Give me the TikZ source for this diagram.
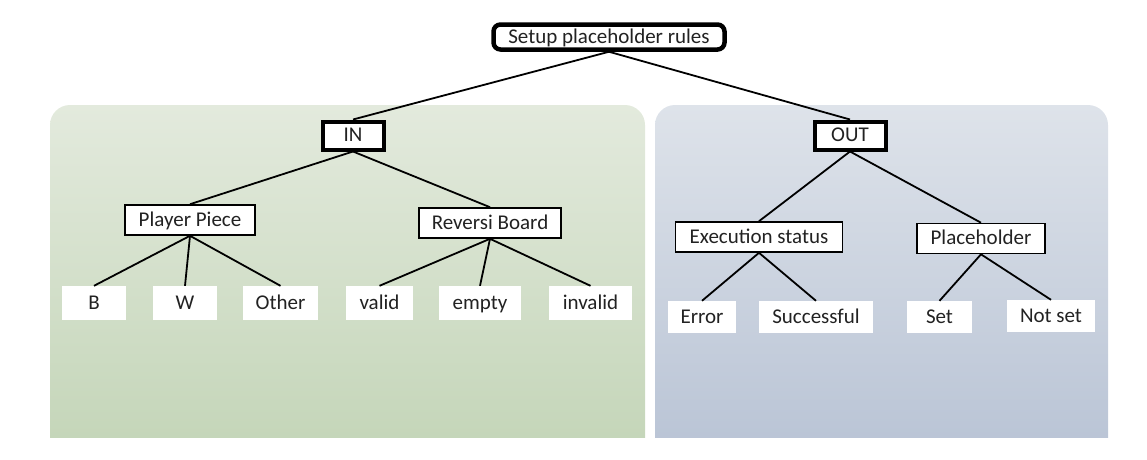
\documentclass[tikz,border=0pt]{standalone}
\usepackage{fontspec}
\setmainfont{Carlito}
\definecolor{gtop}{HTML}{E3EADD}
\definecolor{gbot}{HTML}{C2D4B6}
\definecolor{btop}{HTML}{DEE3EA}
\definecolor{bbot}{HTML}{B7C2D4}
\definecolor{txt}{HTML}{222222}
\begin{document}
\begin{tikzpicture}[x=1pt,y=-1pt,
  every node/.style={font=\fontsize{21}{24}\selectfont, text=txt, inner sep=0pt, anchor=center, text height=15pt, text depth=3pt},
  rootbox/.style={draw=black, line width=4.5pt, rounded corners=7pt, fill=white, minimum width=231pt, minimum height=25pt},
  hubbox/.style={draw=black, line width=4pt, fill=white, minimum height=28pt},
  midbox/.style={draw=black, line width=1.6pt, fill=white, minimum height=30pt},
  leafbox/.style={fill=white, minimum height=34pt},
  link/.style={draw=black, line width=1.8pt}]
\useasboundingbox (0,0) rectangle (1147,459);
\begin{scope}
\clip (0,0) rectangle (1147,437);
\shade[top color=gtop, bottom color=gbot, rounded corners=20pt] (50,105) rectangle (645,470);
\shade[top color=btop, bottom color=bbot, rounded corners=20pt] (655,105) rectangle (1108,470);
\end{scope}
% nodes
\node[rootbox] (root) at (609,37) {Setup placeholder rules};
\node[hubbox, minimum width=61pt] (in) at (353,135.5) {IN};
\node[hubbox, minimum width=71pt] (out) at (850,135.5) {OUT};
\node[midbox, minimum width=130pt] (pp) at (190,220) {Player Piece};
\node[midbox, minimum width=142pt] (rb) at (490,223) {Reversi Board};
\node[midbox, minimum width=167pt] (es) at (759,237) {Execution status};
\node[midbox, minimum width=128pt] (ph) at (981,238.5) {Placeholder};
\node[leafbox, minimum width=64pt] (b) at (94,303) {B};
\node[leafbox, minimum width=64pt] (w) at (185,303) {W};
\node[leafbox, minimum width=75pt] (other) at (280.5,303) {Other};
\node[leafbox, minimum width=67pt] (valid) at (379.5,303) {valid};
\node[leafbox, minimum width=82pt] (empty) at (480,303) {empty};
\node[leafbox, minimum width=83pt] (invalid) at (590.5,303) {invalid};
\node[leafbox, minimum width=68pt, minimum height=32pt] (err) at (702,317) {Error};
\node[leafbox, minimum width=114pt, minimum height=32pt] (succ) at (816,317) {Successful};
\node[leafbox, minimum width=65pt, minimum height=32pt] (set) at (939.5,317) {Set};
\node[leafbox, minimum width=88pt, minimum height=32pt] (notset) at (1051,316) {Not set};
% links
\draw[link] (root.south) -- (in.north);
\draw[link] (root.south) -- (out.north);
\draw[link] (in.south) -- (pp.north);
\draw[link] (in.south) -- (rb.north);
\draw[link] (out.south) -- (es.north);
\draw[link] (out.south) -- (ph.north);
\draw[link] (pp.south) -- (b.north);
\draw[link] (pp.south) -- (w.north);
\draw[link] (pp.south) -- (other.north);
\draw[link] (rb.south) -- (valid.north);
\draw[link] (rb.south) -- (empty.north);
\draw[link] (rb.south) -- (invalid.north);
\draw[link] (es.south) -- (err.north);
\draw[link] (es.south) -- (succ.north);
\draw[link] (ph.south) -- (set.north);
\draw[link] (ph.south) -- (notset.north);
\end{tikzpicture}
\end{document}
